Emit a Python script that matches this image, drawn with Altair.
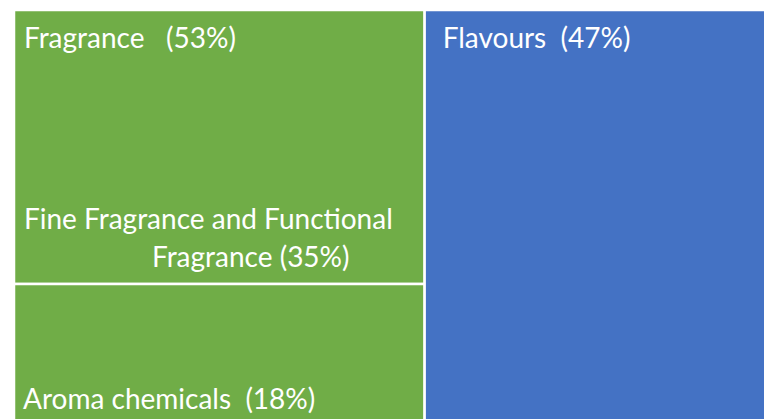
import altair as alt
import pandas as pd

# ---- data ----
groups = ["Fragrance", "Flavours"]
group_shares = [53, 47]
group_labels = ["Fragrance\u00a0\u00a0\u00a0(53%)", "Flavours\u00a0\u00a0(47%)"]

leaf_group = ["Fragrance", "Fragrance", "Flavours"]
leaf_names = ["Fine Fragrance and Functional Fragrance", "Aroma chemicals", "Flavours"]
leaf_shares = [35, 18, 47]

colors = {"Fragrance": "#70AD47", "Flavours": "#4472C4"}

# ---- slice-and-dice treemap layout computed from the values ----
total = sum(group_shares)
rows = []
gx = {}
cum = 0.0
for g, s in zip(groups, group_shares):
    gx[g] = (cum / total * 100, (cum + s) / total * 100)
    cum += s
gcum = {g: 0.0 for g in groups}
gtot = dict(zip(groups, group_shares))
for g, n, s in zip(leaf_group, leaf_names, leaf_shares):
    y0 = gcum[g] / gtot[g]
    gcum[g] += s
    y1 = gcum[g] / gtot[g]
    rows.append({"group": g, "name": n, "share": s,
                 "x0": gx[g][0], "x1": gx[g][1], "y0": y0, "y1": y1})
rects = pd.DataFrame(rows)

# the reference image is cropped on the right: only part of the full width is visible
VISIBLE_X = 96.8
xs = alt.Scale(domain=[0, VISIBLE_X], nice=False, zero=False)
ys = alt.Scale(domain=[0, 1], nice=False, zero=False, reverse=True)

base = alt.Chart(rects)

tiles = base.mark_rect(stroke="white", strokeWidth=2.5, clip=True).encode(
    x=alt.X("x0:Q", scale=xs, axis=None),
    x2="x1:Q",
    y=alt.Y("y0:Q", scale=ys, axis=None),
    y2="y1:Q",
    color=alt.Color("group:N", scale=alt.Scale(domain=list(colors.keys()),
                                               range=list(colors.values())), legend=None),
)

FONT = "Lato"
FS = 28

def label(df_filter, text, dx, dy):
    return base.transform_filter(df_filter).mark_text(
        align="left", baseline="alphabetic", font=FONT, fontSize=FS,
        color="white", dx=dx, dy=dy
    ).encode(
        x=alt.X("x0:Q", scale=xs, axis=None),
        y=alt.Y("y0:Q", scale=ys, axis=None),
        text=alt.value(text),
    )

frag_label = label(alt.datum.name == leaf_names[0], group_labels[0], 10, 38)
flav_label = label(alt.datum.name == leaf_names[2], group_labels[1], 18, 38)
fine1 = label(alt.datum.name == leaf_names[0], "Fine Fragrance and Functional", 10, 219)
fine2 = label(alt.datum.name == leaf_names[0], "Fragrance (" + str(leaf_shares[0]) + "%)", 138, 257)
aroma = label(alt.datum.name == leaf_names[1],
              leaf_names[1] + "\u00a0\u00a0(" + str(leaf_shares[1]) + "%)", 9, 125)

chart = alt.layer(tiles, frag_label, flav_label, fine1, fine2, aroma).properties(
    width=750, height=415,
    padding={"left": 6, "top": 2, "right": 0, "bottom": 0},
    autosize=alt.AutoSizeParams(type="none"),
    background="white",
).configure_view(stroke=None)

chart.save("out.html", embed_options={"renderer": "svg", "actions": False})
